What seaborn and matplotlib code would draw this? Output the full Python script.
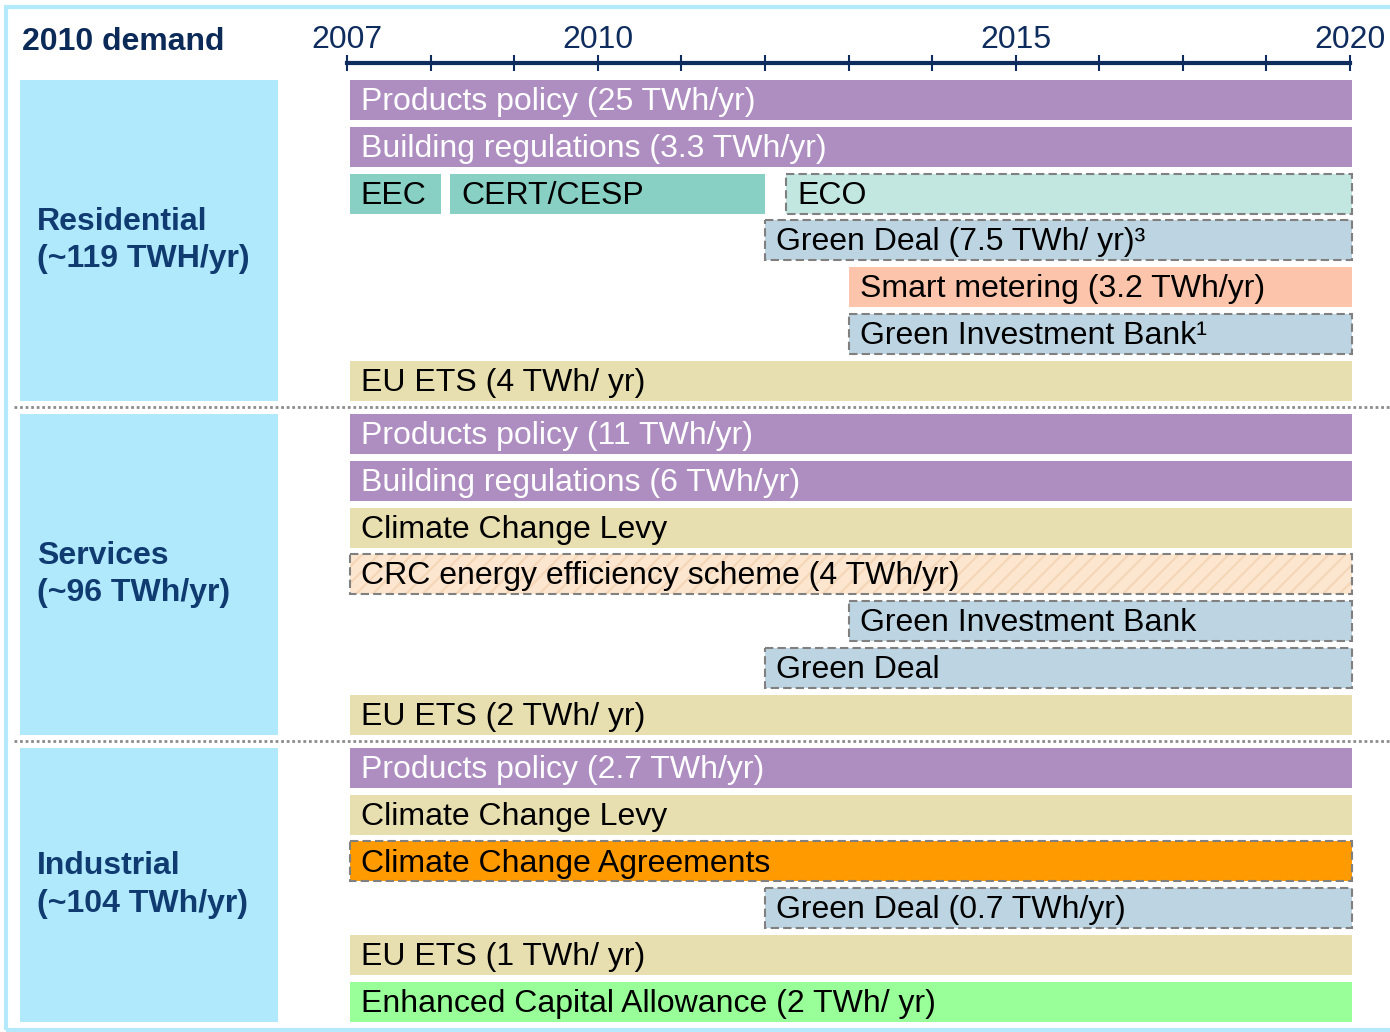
import matplotlib
matplotlib.use("Agg")
import matplotlib.pyplot as plt
from matplotlib.patches import Rectangle
import pandas as pd
import seaborn as sns

# timeline positions are in tick units (0 = 2007 tick, 12 = 2020 tick)
tick_labels = {0: "2007", 3: "2010", 8: "2015", 12: "2020"}

sections = ["Residential\n(~119 TWH/yr)", "Services\n(~96 TWh/yr)",
            "Industrial\n(~104 TWh/yr)"]
section_rows = [7, 7, 6]

res_labels = ["Products policy (25 TWh/yr)", "Building regulations (3.3 TWh/yr)",
              "EEC", "CERT/CESP", "ECO", "Green Deal (7.5 TWh/ yr)\u00b3",
              "Smart metering (3.2 TWh/yr)", "Green Investment Bank\u00b9",
              "EU ETS (4 TWh/ yr)"]
res_rows = [0, 1, 2, 2, 2, 3, 4, 5, 6]
res_start = [0.03, 0.03, 0.03, 1.23, 5.25, 5.0, 6.0, 6.0, 0.03]
res_end = [12.02, 12.02, 1.12, 5.0, 12.02, 12.02, 12.02, 12.02, 12.02]
res_kind = ["product", "product", "supplier", "supplier", "eco", "deal",
            "meter", "deal", "tax"]

srv_labels = ["Products policy (11 TWh/yr)", "Building regulations (6 TWh/yr)",
              "Climate Change Levy", "CRC energy efficiency scheme (4 TWh/yr)",
              "Green Investment Bank", "Green Deal", "EU ETS (2 TWh/ yr)"]
srv_rows = [0, 1, 2, 3, 4, 5, 6]
srv_start = [0.03, 0.03, 0.03, 0.03, 6.0, 5.0, 0.03]
srv_end = [12.02, 12.02, 12.02, 12.02, 12.02, 12.02, 12.02]
srv_kind = ["product", "product", "tax", "crc", "deal", "deal", "tax"]

ind_labels = ["Products policy (2.7 TWh/yr)", "Climate Change Levy",
              "Climate Change Agreements", "Green Deal (0.7 TWh/yr)",
              "EU ETS (1 TWh/ yr)", "Enhanced Capital Allowance (2 TWh/ yr)"]
ind_rows = [0, 1, 2, 3, 4, 5]
ind_start = [0.03, 0.03, 0.03, 5.0, 0.03, 0.03]
ind_end = [12.02, 12.02, 12.02, 12.02, 12.02, 12.02]
ind_kind = ["product", "tax", "cca", "deal", "tax", "eca"]

# styles per kind: fill, text colour, dashed outline
styles = {
    "product": ("#AE8DC1", "white", False),
    "supplier": ("#88D0C4", "black", False),
    "eco": ("#C2E6E0", "black", True),
    "deal": ("#BDD5E2", "black", True),
    "meter": ("#FBC4AB", "black", False),
    "tax": ("#E8DFB1", "black", False),
    "crc": ("#FCE6CF", "black", True),
    "cca": ("#FF9A00", "black", True),
    "eca": ("#99FF99", "black", False),
}

navy = "#0F2C5E"
label_blue = "#0F3B70"

# build one table
frames = []
for i, (lab, rows, st, en, kd) in enumerate([
        (res_labels, res_rows, res_start, res_end, res_kind),
        (srv_labels, srv_rows, srv_start, srv_end, srv_kind),
        (ind_labels, ind_rows, ind_start, ind_end, ind_kind)]):
    frames.append(pd.DataFrame({"label": lab, "row": rows, "start": st,
                                "end": en, "kind": kd, "section": i}))
df = pd.concat(frames, ignore_index=True)

gap = 0.135
offsets = []
acc = 0
for i, n in enumerate(section_rows):
    offsets.append(acc + i * gap)
    acc += n
df["y"] = df["row"] + df["section"].map(dict(enumerate(offsets)))

sns.set_style("white")
plt.rcParams['font.family'] = ['Liberation Sans', 'DejaVu Sans']
plt.rcParams['hatch.linewidth'] = 1.5

W, H = 1390, 1032
X0, X1 = 347, 1350
AX_TOP = 63
ROW0, PITCH = 100, 46.8
BAR_H = 0.855
FS = 23

fig = plt.figure(figsize=(W / 100, H / 100), dpi=100)
ax = fig.add_axes([X0 / W, 0, (X1 - X0) / W, (H - AX_TOP) / H])
ax.set_xlim(0, 12)
ax.set_ylim((H - ROW0) / PITCH, (AX_TOP - ROW0) / PITCH)

lax = fig.add_axes([20 / W, 0, 258 / W, (H - AX_TOP) / H], sharey=ax)
lax.set_xlim(0, 1)
lax.axis("off")

for _, r in df.iterrows():
    fill, tcol, dashed = styles[r["kind"]]
    width = r["end"] - r["start"]
    if r["kind"] == "crc":
        ax.barh(r["y"], width, left=r["start"], height=BAR_H, color=fill,
                hatch="//", edgecolor="#F4D6B6", linewidth=0, clip_on=False)
        ax.barh(r["y"], width, left=r["start"], height=BAR_H, fill=False,
                edgecolor="#808080", linestyle=(0, (4, 2)), linewidth=1.5,
                clip_on=False)
    elif dashed:
        ax.barh(r["y"], width, left=r["start"], height=BAR_H, color=fill,
                edgecolor="#808080", linestyle=(0, (4, 2)), linewidth=1.5,
                clip_on=False)
    else:
        ax.barh(r["y"], width, left=r["start"], height=BAR_H, color=fill,
                linewidth=0, clip_on=False)
    ax.annotate(r["label"], (r["start"], r["y"]), xytext=(8, -1.5),
                textcoords="offset points", ha="left", va="center",
                fontsize=FS, color=tcol)

# section boxes and labels on the left
for i, name in enumerate(sections):
    top = offsets[i] - BAR_H / 2
    bottom = offsets[i] + section_rows[i] - 1 + BAR_H / 2
    lax.barh((top + bottom) / 2, 1, left=0, height=bottom - top,
             color="#B0E9FC", linewidth=0)
    lax.text(0.066, (top + bottom) / 2, name, ha="left", va="center",
             fontsize=FS, fontweight="bold", color=label_blue,
             linespacing=1.32)

# dotted separators between sections
for i in range(1, len(section_rows)):
    ysep = offsets[i] - 0.5 - gap / 2
    ax.axhline(ysep, xmin=(14 - X0) / (X1 - X0), xmax=(W - X0) / (X1 - X0),
               clip_on=False, color="#8C8C8C", linestyle=(0, (1, 1)),
               linewidth=2)

# timeline axis on top
ax.xaxis.tick_top()
ax.set_xticks(range(13))
ax.set_xticklabels([tick_labels.get(t, "") for t in range(13)])
ax.tick_params(axis="x", direction="inout", length=12, width=1.5,
               color=navy, labelsize=FS, labelcolor=navy, pad=0)
ax.set_yticks([])
for s in ["left", "right", "bottom"]:
    ax.spines[s].set_visible(False)
ax.spines["top"].set_linewidth(3)
ax.spines["top"].set_color(navy)

fig.text(22 / W, 1 - 42 / H, "2010 demand", ha="left", va="center",
         fontsize=FS, fontweight="bold", color="#0B2A57")

# light blue frame
fig.patches.append(Rectangle((5.5 / W, 2 / H), 1.2, (H - 9) / H,
                             transform=fig.transFigure, fill=False,
                             edgecolor="#B3E9FB", linewidth=3, zorder=0))

fig.savefig("out.png", dpi=100)
